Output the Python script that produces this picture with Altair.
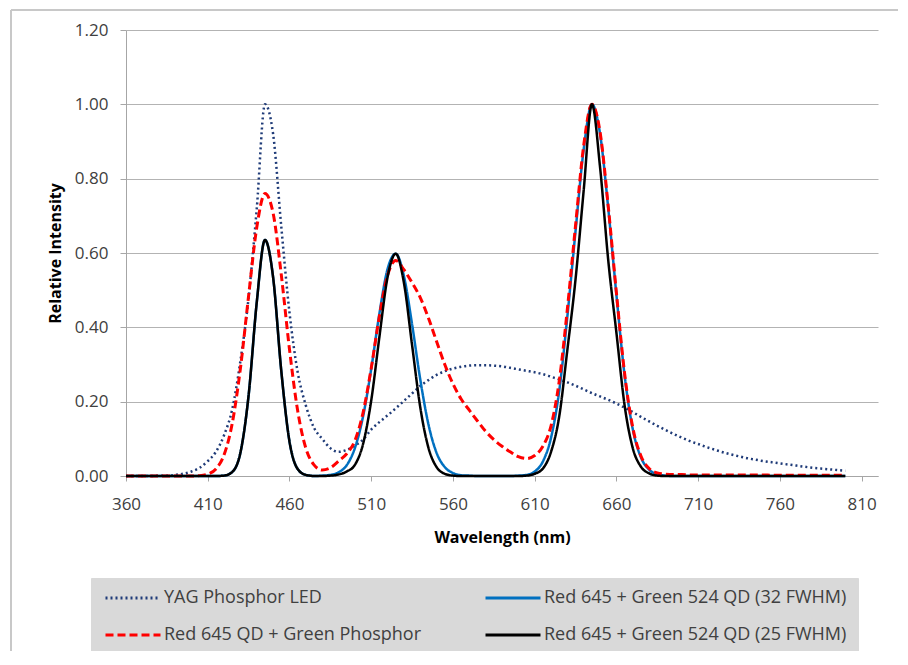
import altair as alt
import pandas as pd

wavelength = list(range(360, 805, 5))

series_names = [
    "YAG Phosphor LED",
    "Red 645 + Green 524 QD (32 FWHM)",
    "Red 645 QD + Green Phosphor",
    "Red 645 + Green 524 QD (25 FWHM)",
]
legend_order = [series_names[0], series_names[2], series_names[1], series_names[3]]

yag = [0.000, 0.000, 0.000, 0.000, 0.001, 0.001, 0.003, 0.006, 0.012, 0.022,
       0.040, 0.065, 0.110, 0.180, 0.310, 0.480, 0.720, 1.000, 0.920, 0.670,
       0.440, 0.280, 0.190, 0.130, 0.100, 0.075, 0.065, 0.070, 0.082, 0.098,
       0.125, 0.145, 0.163, 0.182, 0.202, 0.222, 0.242, 0.258, 0.272, 0.282,
       0.289, 0.294, 0.297, 0.298, 0.298, 0.297, 0.295, 0.291, 0.287, 0.283,
       0.279, 0.274, 0.267, 0.260, 0.252, 0.243, 0.233, 0.223, 0.214, 0.205,
       0.195, 0.184, 0.172, 0.159, 0.147, 0.135, 0.124, 0.113, 0.103, 0.094,
       0.086, 0.078, 0.071, 0.064, 0.058, 0.053, 0.048, 0.044, 0.040, 0.037,
       0.034, 0.031, 0.028, 0.025, 0.022, 0.020, 0.018, 0.016, 0.014]

qd25 = [0, 0, 0, 0, 0, 0, 0, 0, 0, 0, 0, 0,
        0.001, 0.011, 0.063, 0.217, 0.468, 0.635, 0.534, 0.282, 0.093, 0.019,
        0.003, 0.000, 0.000, 0.001, 0.004, 0.012, 0.030, 0.086, 0.203, 0.374,
        0.535, 0.598, 0.520, 0.352, 0.185, 0.076, 0.024, 0.006, 0.001, 0, 0,
        0, 0, 0, 0, 0, 0, 0.001, 0.006, 0.020, 0.065, 0.160, 0.340, 0.530,
        0.770, 1.000, 0.830, 0.580, 0.385, 0.190, 0.075, 0.025, 0.007, 0.001,
        0, 0, 0, 0, 0, 0, 0, 0, 0, 0, 0, 0, 0, 0, 0, 0, 0, 0, 0, 0, 0, 0, 0]

qd32 = [0, 0, 0, 0, 0, 0, 0, 0, 0, 0, 0, 0,
        0.001, 0.011, 0.063, 0.217, 0.468, 0.635, 0.534, 0.282, 0.093, 0.019,
        0.003, 0.000, 0.001, 0.003, 0.010, 0.029, 0.075, 0.160, 0.288, 0.437,
        0.557, 0.598, 0.538, 0.408, 0.260, 0.139, 0.062, 0.024, 0.008, 0.002,
        0.001, 0, 0, 0, 0, 0, 0.001, 0.003, 0.012, 0.039, 0.103, 0.229, 0.430,
        0.660, 0.880, 1.000, 0.920, 0.720, 0.487, 0.271, 0.126, 0.050, 0.017,
        0.005, 0.001, 0, 0, 0, 0, 0, 0, 0, 0, 0, 0, 0, 0, 0, 0, 0, 0, 0, 0,
        0, 0, 0, 0]

red_phos = [0, 0, 0, 0, 0, 0, 0, 0, 0,
            0.001, 0.005, 0.019, 0.057, 0.142, 0.290, 0.485, 0.669, 0.760, 0.707,
            0.541, 0.341, 0.176, 0.075, 0.030, 0.016, 0.022, 0.040, 0.060, 0.095,
            0.170, 0.290, 0.430, 0.540, 0.580, 0.555, 0.520, 0.480, 0.425, 0.362,
            0.300, 0.248, 0.207, 0.177, 0.148, 0.120, 0.098, 0.080, 0.065, 0.052,
            0.047, 0.055, 0.080, 0.135, 0.255, 0.450, 0.675, 0.890, 1.000, 0.925,
            0.725, 0.492, 0.276, 0.130, 0.054, 0.020, 0.008, 0.005, 0.004, 0.004,
            0.003, 0.003, 0.003, 0.003, 0.003, 0.003, 0.003, 0.003, 0.003, 0.003,
            0.002, 0.002, 0.002, 0.002, 0.002, 0.002, 0.002, 0.002, 0.002, 0.002]

x_ticks = [360, 410, 460, 510, 560, 610, 660, 710, 760, 810]
y_ticks = [0.0, 0.2, 0.4, 0.6, 0.8, 1.0, 1.2]

style = {
    series_names[0]: ("#1F3B78", [2, 3], 2.5),
    series_names[1]: ("#0070C0", [1, 0], 2.5),
    series_names[2]: ("#FF0000", [8, 4], 3),
    series_names[3]: ("#000000", [1, 0], 2.5),
}

values_by_series = [yag, qd32, red_phos, qd25]
rows = []
for name, vals in zip(series_names, values_by_series):
    for w, v in zip(wavelength, vals):
        rows.append({"wl": w, "v": v, "series": name})
df = pd.DataFrame(rows)

FONT = "Open Sans"

legend = alt.Legend(
    title=None, orient="none", legendX=-35, legendY=548, columns=2,
    symbolType="M-1,0H9", symbolSize=121, symbolStrokeWidth=3,
    labelFont=FONT, labelFontSize=18, labelColor="#404040", labelOffset=44,
    columnPadding=57, rowPadding=19, padding=11,
    fillColor="#d9d9d9", strokeColor="#d9d9d9", labelLimit=0,
)

x_enc = alt.X("wl:Q", scale=alt.Scale(domain=[360, 820], nice=False, zero=False),
              axis=alt.Axis(values=x_ticks, title="Wavelength (nm)", grid=False,
                            labelFlush=False, tickSize=5, labelPadding=15,
                            titlePadding=17))
y_enc = alt.Y("v:Q", scale=alt.Scale(domain=[0, 1.2], nice=False),
              axis=alt.Axis(values=y_ticks, format=".2f", title="Relative Intensity",
                            grid=True, tickSize=6, labelPadding=12, titlePadding=11))
color_enc = alt.Color("series:N",
                      scale=alt.Scale(domain=legend_order,
                                      range=[style[n][0] for n in legend_order]),
                      legend=legend)
dash_enc = alt.StrokeDash("series:N",
                          scale=alt.Scale(domain=legend_order,
                                          range=[style[n][1] for n in legend_order]),
                          legend=legend)

layers = []
for name in series_names:
    layers.append(
        alt.Chart(df).transform_filter(alt.datum.series == name)
        .mark_line(strokeWidth=style[name][2], interpolate="monotone")
        .encode(x=x_enc, y=y_enc, color=color_enc, strokeDash=dash_enc)
    )

frame = pd.DataFrame({"k": [0]})
left_border = alt.Chart(frame).mark_rule(color="#c8c8c8", strokeWidth=2).encode(
    x=alt.value(-115), y=alt.value(-20), y2=alt.value(700))
top_border = alt.Chart(frame).mark_rule(color="#c8c8c8", strokeWidth=2).encode(
    x=alt.value(-115), x2=alt.value(900), y=alt.value(-20))

chart = alt.layer(left_border, top_border, *layers).properties(
    width=752, height=446,
    padding={"left": 118, "top": 22, "right": 20, "bottom": 175},
    autosize=alt.AutoSizeParams(type="none"),
).configure_view(stroke=None).configure_axis(
    labelFont=FONT, labelFontSize=17, labelColor="#404040",
    titleFont=FONT, titleFontSize=16, titleFontWeight="bold", titleColor="#000000",
    domainColor="#a6a6a6", tickColor="#a6a6a6", gridColor="#b3b3b3",
    domainWidth=1, gridWidth=1,
)

chart.save("out.html", embed_options={"renderer": "svg", "actions": False})
